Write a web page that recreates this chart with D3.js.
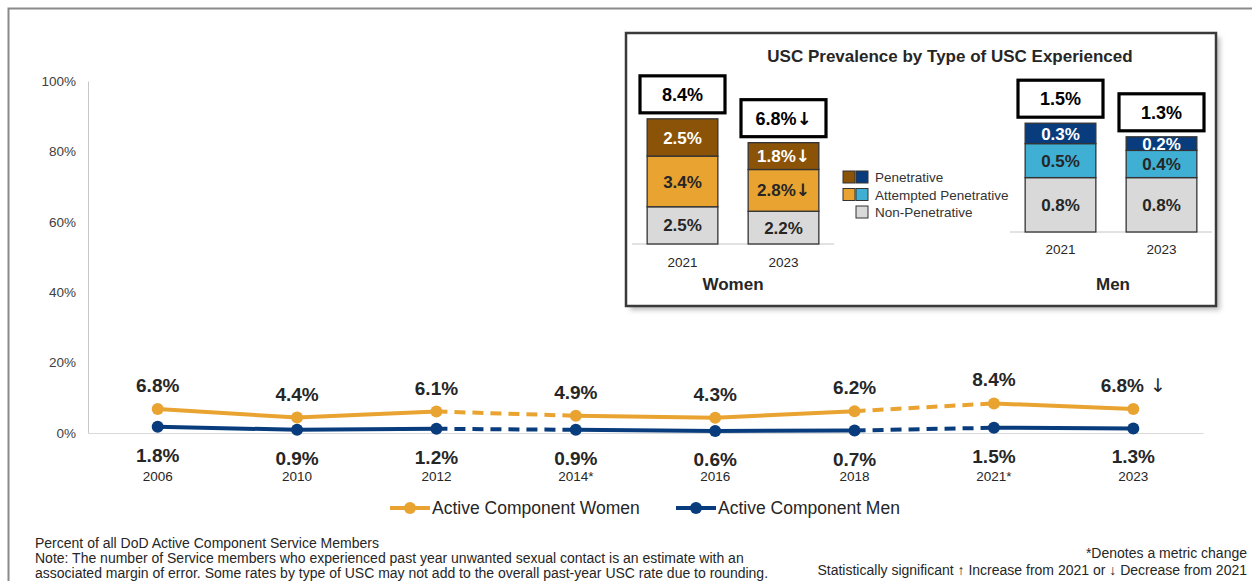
<!DOCTYPE html>
<html><head><meta charset="utf-8">
<script src="https://cdn.jsdelivr.net/npm/d3@7"></script>
<style>
body{margin:0;background:#fff;}
svg{display:block;font-family:"Liberation Sans",Arial,sans-serif;}
</style>
</head><body>
<svg id="c" width="1252" height="581"></svg>
<script>
// ---------- DATA ----------
const years = ["2006","2010","2012","2014*","2016","2018","2021*","2023"];
const women = [6.8,4.4,6.1,4.9,4.3,6.2,8.4,6.8];
const men   = [1.8,0.9,1.2,0.9,0.6,0.7,1.5,1.3];
const womenMark = ["","","","","","","","↓"];
const menMark   = ["","","","","","","",""];
const dashedFrom = ["2012","2018"];          // segment starting at these years is dashed
const yTicks = [0,20,40,60,80,100];
const seriesNames = ["Active Component Women","Active Component Men"];

const insetTitle = "USC Prevalence by Type of USC Experienced";
const insetYears = ["2021","2023"];
const typeNames = ["Penetrative","Attempted Penetrative","Non-Penetrative"];
const womenNonPen  = [2.5,2.2];
const womenAttempt = [3.4,2.8];
const womenPen     = [2.5,1.8];
const womenTotal   = [8.4,6.8];
const womenNonMark = ["",""];
const womenAttMark = ["","↓"];
const womenPenMark = ["","↓"];
const womenTotMark = ["","↓"];
const menNonPen  = [0.8,0.8];
const menAttempt = [0.5,0.4];
const menPen     = [0.3,0.2];
const menTotal   = [1.5,1.3];

const footLeft = ["Percent of all DoD Active Component Service Members",
 "Note: The number of Service members who experienced past year unwanted sexual contact is an estimate with an",
 "associated margin of error. Some rates by type of USC may not add to the overall past-year USC rate due to rounding."];
const footRight = ["*Denotes a metric change",
 "Statistically significant ↑ Increase from 2021 or ↓ Decrease from 2021"];

// ---------- STYLE ----------
const GOLD = "#E9A331", NAVY = "#083C7C";
const BROWN = "#8A5308", LBLUE = "#3FB0D4", LGRAY = "#D9D9D9";
const TXT = "#262626";
const ARROWFONT = "DejaVu Sans, sans-serif";

const svg = d3.select("#c");

function labelText(sel, num, mark, space, arrowWeight){
  sel.text(null);
  sel.append("tspan").text(num);
  if(mark){
    sel.append("tspan").attr("font-family",ARROWFONT).attr("font-weight",arrowWeight)
      .text((space?" ":"")+mark);
  }
}

// outer frame
svg.append("rect").attr("x",8.5).attr("y",8.5).attr("width",1260).attr("height",620)
  .attr("fill","none").attr("stroke","#8a8a8a").attr("stroke-width",2);

// ---------- MAIN CHART ----------
const x = d3.scaleBand().domain(years).range([88,1203]);
const cx = d => x(d) + x.bandwidth()/2;
const y = d3.scaleLinear().domain([0,100]).range([433,81]);

const yAx = svg.append("g").attr("transform","translate(88,0)")
  .call(d3.axisLeft(y).tickValues(yTicks).tickFormat(d=>d+"%").tickSize(0).tickSizeOuter(0).tickPadding(12));
yAx.select(".domain").attr("stroke","#c8c8c8");
yAx.selectAll("text").attr("font-size",13.5).attr("fill","#404040").attr("font-family","Liberation Sans, Arial, sans-serif");

const xAx = svg.append("g").attr("transform","translate(0,433)")
  .call(d3.axisBottom(x).tickSize(0).tickSizeOuter(0).tickPadding(38));
xAx.select(".domain").attr("stroke","#d9d9d9");
xAx.selectAll("text").attr("font-size",13.5).attr("fill",TXT).attr("font-family","Liberation Sans, Arial, sans-serif");

function drawSeries(vals, color, marks, above){
  const pts = years.map((yr,i)=>({yr, v:vals[i], m:marks[i]}));
  const g = svg.append("g");
  for(let i=0;i<pts.length-1;i++){
    const a=pts[i], b=pts[i+1];
    g.append("line").attr("x1",cx(a.yr)).attr("y1",y(a.v)).attr("x2",cx(b.yr)).attr("y2",y(b.v))
      .attr("stroke",color).attr("stroke-width",4)
      .attr("stroke-dasharray", dashedFrom.includes(a.yr) ? "11,7" : null);
  }
  g.selectAll("circle").data(pts).join("circle")
    .attr("cx",d=>cx(d.yr)).attr("cy",d=>y(d.v)).attr("r",6).attr("fill",color);
  g.selectAll("text").data(pts).join("text")
    .attr("x",d=>cx(d.yr)).attr("y",d=> above ? y(d.v)-17 : y(d.v)+35)
    .attr("text-anchor","middle").attr("font-size",19).attr("font-weight","bold").attr("fill",TXT)
    .each(function(d){ labelText(d3.select(this), d.v.toFixed(1)+"%", d.m, true, "normal"); });
}
drawSeries(women, GOLD, womenMark, true);
drawSeries(men, NAVY, menMark, false);

// legend
const legX = [390, 676];
[GOLD,NAVY].forEach((c,i)=>{
  const g = svg.append("g").attr("transform",`translate(${legX[i]},508)`);
  g.append("line").attr("x1",0).attr("x2",40).attr("stroke",c).attr("stroke-width",4);
  g.append("circle").attr("cx",20).attr("r",6).attr("fill",c);
  g.append("text").attr("x",42).attr("y",6).attr("font-size",17.5).attr("fill",TXT).text(seriesNames[i]);
});

// footnotes
footLeft.forEach((t,i)=>{
  svg.append("text").attr("x",35).attr("y",548+i*15).attr("font-size",14).attr("fill",TXT).text(t);
});
footRight.forEach((t,i)=>{
  svg.append("text").attr("x",1247).attr("y",558+i*17).attr("text-anchor","end").attr("font-size",14).attr("fill",TXT).text(t);
});

// ---------- INSET ----------
const defs = svg.append("defs");
defs.append("filter").attr("id","blur").append("feGaussianBlur").attr("stdDeviation",2.5);
svg.append("rect").attr("x",630).attr("y",37).attr("width",590).attr("height",273)
  .attr("fill","#bdbdbd").attr("filter","url(#blur)");
svg.append("rect").attr("x",626).attr("y",33).attr("width",590).attr("height",273)
  .attr("fill","#fff").attr("stroke","#3a3a3a").attr("stroke-width",2.5);

svg.append("text").attr("x",950).attr("y",62).attr("text-anchor","middle")
  .attr("font-size",17).attr("font-weight","bold").attr("fill",TXT).text(insetTitle);

function drawStack(opts){
  const {range, base, pxTop, domainTop, segs, totals, totMarks, colors, textColors, groupName, yearY, nameX, nameY} = opts;
  const xb = d3.scaleBand().domain(insetYears).range(range).paddingInner(0.3).paddingOuter(0.15);
  const ys = d3.scaleLinear().domain([0,domainTop]).range([base,pxTop]);
  const g = svg.append("g");
  g.append("line").attr("x1",range[0]).attr("x2",range[1]).attr("y1",base).attr("y2",base)
    .attr("stroke","#d9d9d9").attr("stroke-width",1.5);
  insetYears.forEach((yr,i)=>{
    let cum = 0;
    const stack = segs.map(s=>{ const o={y0:cum, y1:cum+s.vals[i], v:s.vals[i], m:s.marks[i]}; cum+=s.vals[i]; return o;});
    const clipId = "clip"+groupName+i;
    defs.append("clipPath").attr("id",clipId).append("rect")
      .attr("x",xb(yr)).attr("y",ys(cum)).attr("width",xb.bandwidth()).attr("height",ys(0)-ys(cum));
    stack.forEach((s,k)=>{
      g.append("rect").attr("x",xb(yr)).attr("y",ys(s.y1)).attr("width",xb.bandwidth())
        .attr("height",ys(s.y0)-ys(s.y1)).attr("fill",colors[k]).attr("stroke","#333").attr("stroke-width",1.3);
    });
    stack.forEach((s,k)=>{
      const t = g.append("text").attr("clip-path",`url(#${clipId})`)
        .attr("x",xb(yr)+xb.bandwidth()/2).attr("y",(ys(s.y0)+ys(s.y1))/2).attr("dy","0.36em")
        .attr("text-anchor","middle").attr("font-size",17).attr("font-weight","bold").attr("fill",textColors[k]);
      labelText(t, s.v.toFixed(1)+"%", s.m, false, "bold");
    });
    // total box
    const bw=85, bh=37, top=ys(cum)-6-bh;
    g.append("rect").attr("x",xb(yr)+xb.bandwidth()/2-bw/2).attr("y",top).attr("width",bw).attr("height",bh)
      .attr("fill","#fff").attr("stroke","#000").attr("stroke-width",3.2);
    const tt = g.append("text").attr("x",xb(yr)+xb.bandwidth()/2).attr("y",top+bh/2).attr("dy","0.36em")
      .attr("text-anchor","middle").attr("font-size",18).attr("font-weight","bold").attr("fill","#000");
    labelText(tt, totals[i].toFixed(1)+"%", totMarks[i], false, "bold");
    g.append("text").attr("x",xb(yr)+xb.bandwidth()/2).attr("y",yearY).attr("text-anchor","middle")
      .attr("font-size",13.5).attr("fill",TXT).text(yr);
  });
  g.append("text").attr("x",nameX).attr("y",nameY).attr("text-anchor","middle")
    .attr("font-size",17).attr("font-weight","bold").attr("fill",TXT).text(groupName);
}

drawStack({range:[632,834], base:244, pxTop:244-149, domainTop:10,
  segs:[{vals:womenNonPen,marks:womenNonMark},{vals:womenAttempt,marks:womenAttMark},{vals:womenPen,marks:womenPenMark}],
  totals:womenTotal, totMarks:womenTotMark, colors:[LGRAY,GOLD,BROWN], textColors:[TXT,TXT,"#fff"],
  groupName:"Women", yearY:267, nameX:733, nameY:290});
drawStack({range:[1010,1212], base:232, pxTop:232-136, domainTop:2,
  segs:[{vals:menNonPen,marks:["",""]},{vals:menAttempt,marks:["",""]},{vals:menPen,marks:["",""]}],
  totals:menTotal, totMarks:["",""], colors:[LGRAY,LBLUE,NAVY], textColors:[TXT,TXT,"#fff"],
  groupName:"Men", yearY:254, nameX:1113, nameY:290});

// inset legend
const legRows = [[BROWN,NAVY],[GOLD,LBLUE],[null,LGRAY]];
legRows.forEach((cols,i)=>{
  const yy = 177 + i*17.5;
  cols.forEach((c,k)=>{
    if(!c) return;
    svg.append("rect").attr("x",843+k*13).attr("y",yy-6).attr("width",12).attr("height",12)
      .attr("fill",c).attr("stroke","#333").attr("stroke-width",1);
  });
  svg.append("text").attr("x",875).attr("y",yy+5).attr("font-size",13.5).attr("fill","#333").text(typeNames[i]);
});
</script>
</body></html>
